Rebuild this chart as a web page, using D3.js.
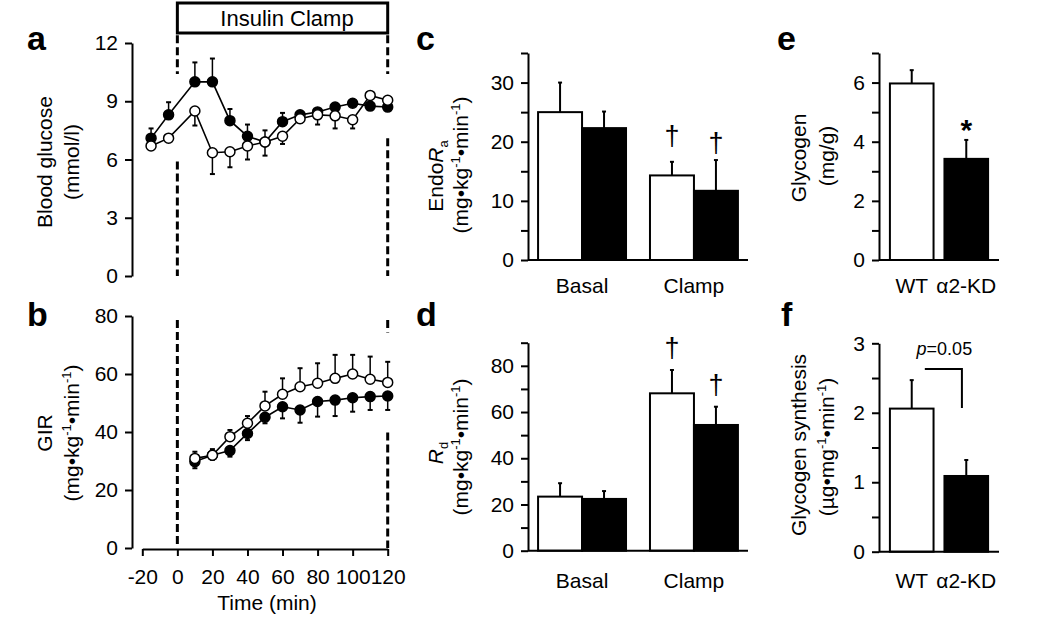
<!DOCTYPE html>
<html>
<head>
<meta charset="utf-8">
<script src="https://cdn.jsdelivr.net/npm/d3@7"></script>
<style>
  body { margin: 0; background: #fff; }
  text { font-family: "Liberation Sans", Arial, Helvetica, sans-serif; fill: #000; }
</style>
</head>
<body>
<svg id="fig" width="1050" height="629"></svg>
<script>
// ---- data ----
// panel a: blood glucose (mmol/l)
const timeA = [-15, -5, 10, 20, 30, 40, 50, 60, 70, 80, 90, 100, 110, 120];
const glucWT = [6.7, 7.1, 8.5, 6.35, 6.4, 6.7, 6.9, 7.2, 8.1, 8.3, 8.25, 8.05, 9.3, 9.05];
const glucWTErr = [0.15, 0.1, 0.75, 1.1, 0.8, 0.7, 0.7, 0.4, 0.2, 0.5, 0.65, 0.45, 0.1, 0.1];
const glucKD = [7.1, 8.3, 10.0, 10.0, 8.0, 7.2, 6.9, 7.95, 8.3, 8.45, 8.7, 8.9, 8.75, 8.7];
const glucKDErr = [0.5, 0.65, 1.0, 1.2, 0.6, 0.6, 0.6, 0.45, 0.15, 0.15, 0.15, 0.15, 0.15, 0.15];

// panel b: GIR (mg/kg/min)
const timeB = [10, 20, 30, 40, 50, 60, 70, 80, 90, 100, 110, 120];
const girWT = [30.9, 32.0, 38.4, 43.0, 49.0, 53.0, 55.6, 56.8, 58.5, 60.0, 58.2, 57.1];
const girWTErr = [2.3, 2.1, 2.3, 2.5, 4.9, 5.5, 6.4, 6.9, 8.1, 6.6, 7.8, 7.1];
const girKD = [29.8, 32.0, 33.6, 39.5, 45.1, 48.7, 47.6, 50.5, 51.0, 51.8, 52.2, 52.4];
const girKDErr = [2.3, 1.5, 2.1, 2.3, 2.1, 4.0, 4.4, 5.2, 5.5, 4.8, 4.6, 4.8];
const timeTicks = [-20, 0, 20, 40, 60, 80, 100, 120];

// panels c, d: basal vs clamp
const phases = ["Basal", "Clamp"];
const groups = ["WT", "α2-KD"];
const endoRaWT = [25.0, 14.3];
const endoRaWTErr = [5.0, 2.3];
const endoRaKD = [22.3, 11.7];
const endoRaKDErr = [2.8, 5.2];
const rdWT = [23.4, 68.1];
const rdWTErr = [5.8, 10.1];
const rdKD = [22.4, 54.4];
const rdKDErr = [3.4, 7.9];

// panels e, f: WT vs KD
const glycogen = [5.97, 3.42];
const glycogenErr = [0.45, 0.64];
const glySynth = [2.06, 1.09];
const glySynthErr = [0.41, 0.23];

const svg = d3.select("#fig");
const FONT = "\"Liberation Sans\", Arial, Helvetica, sans-serif";

function yAxis(y, x0, ticks, labeled) {
  const ax = d3.axisLeft(y).tickValues(ticks).tickSize(7).tickSizeOuter(0).tickPadding(7)
    .tickFormat(d => labeled.includes(d) ? d : "");
  svg.append("g").attr("transform", `translate(${x0},0)`).call(ax)
    .attr("font-size", 21).attr("font-family", null)
    .call(s => s.selectAll("path, line").attr("stroke", "#000").attr("stroke-width", 2));
}

// rich text: parts of [string, style]  style: "" | "i" | "sup" | "sub"
function richText(x, y, parts, size) {
  const t = svg.append("text")
    .attr("transform", `translate(${x},${y}) rotate(-90)`)
    .attr("text-anchor", "middle")
    .attr("font-size", size);
  let shift = 0;
  parts.forEach(([s, st]) => {
    const sp = t.append("tspan").text(s);
    let want = 0;
    if (st === "sup") { want = -8; sp.attr("font-size", size * 0.62); }
    if (st === "sub") { want = 5; sp.attr("font-size", size * 0.62); }
    if (st === "i") sp.attr("font-style", "italic");
    if (want !== shift) sp.attr("dy", want - shift);
    shift = want;
  });
}

function panelLetter(x, y, s) {
  svg.append("text").attr("x", x).attr("y", y).attr("font-size", 34)
    .attr("font-weight", "bold").text(s);
}

const unitParts = [["(mg•kg", ""], ["-1", "sup"], ["•min", ""], ["-1", "sup"], [")", ""]];

// ---------- panels a & b (time course) ----------
const xT = d3.scaleLinear().domain([-20, 120]).range([142.3, 387.7]);
const yA = d3.scaleLinear().domain([0, 12]).range([276, 43]);
const yB = d3.scaleLinear().domain([0, 80]).range([548, 316]);

function dashed(y, t, segs) {
  segs.forEach(([a, b]) => {
    svg.append("line").attr("x1", xT(t)).attr("x2", xT(t))
      .attr("y1", y(a)).attr("y2", y(b))
      .attr("stroke", "#000").attr("stroke-width", 3).attr("stroke-dasharray", "8,4");
  });
}

function series(y, times, vals, errs, dir, filled) {
  const g = svg.append("g");
  times.forEach((t, i) => {
    const y0 = y(vals[i]), y1 = y(vals[i] + dir * errs[i]);
    g.append("line").attr("x1", xT(t)).attr("x2", xT(t)).attr("y1", y0).attr("y2", y1)
      .attr("stroke", "#000").attr("stroke-width", 1.5);
    g.append("line").attr("x1", xT(t) - 2.5).attr("x2", xT(t) + 2.5).attr("y1", y1).attr("y2", y1)
      .attr("stroke", "#000").attr("stroke-width", 2);
  });
  const line = d3.line().x((d, i) => xT(times[i])).y(d => y(d));
  g.append("path").datum(vals).attr("d", line).attr("fill", "none")
    .attr("stroke", "#000").attr("stroke-width", 1.6);
  g.selectAll("circle").data(vals).enter().append("circle")
    .attr("cx", (d, i) => xT(times[i])).attr("cy", d => y(d)).attr("r", 5)
    .attr("fill", filled ? "#000" : "#fff").attr("stroke", "#000").attr("stroke-width", 1.5);
}

// insulin clamp box
svg.append("rect").attr("x", xT(0)).attr("y", 3).attr("width", xT(120) - xT(0)).attr("height", 30)
  .attr("fill", "none").attr("stroke", "#000").attr("stroke-width", 3);
svg.append("text").attr("x", 287).attr("y", 26).attr("text-anchor", "middle")
  .attr("font-size", 22).text("Insulin Clamp");

dashed(yA, 0, [[12.4, 10.4], [5.9, 0]]);
dashed(yA, 120, [[12.4, 10.4], [7.1, 0]]);
dashed(yB, 0, [[78.6, 0]]);
dashed(yB, 120, [[78.6, 74.3], [39.8, 0]]);

yAxis(yA, 132, [0, 3, 6, 9, 12], [0, 3, 6, 9, 12]);
yAxis(yB, 132, [0, 20, 40, 60, 80], [0, 20, 40, 60, 80]);

svg.append("g").attr("transform", "translate(0,549)")
  .call(d3.axisBottom(xT).tickValues(timeTicks).tickSize(7).tickSizeOuter(0).tickPadding(13).tickFormat(d => d))
  .attr("font-size", 21).attr("font-family", null)
  .call(s => s.selectAll("path, line").attr("stroke", "#000").attr("stroke-width", 2));
svg.append("text").attr("x", 267).attr("y", 610).attr("text-anchor", "middle")
  .attr("font-size", 21).text("Time (min)");

series(yA, timeA, glucKD, glucKDErr, 1, true);
series(yA, timeA, glucWT, glucWTErr, -1, false);
series(yB, timeB, girKD, girKDErr, -1, true);
series(yB, timeB, girWT, girWTErr, 1, false);

richText(52, 162, [["Blood glucose", ""]], 21);
richText(79, 162, [["(mmol/l)", ""]], 21);
richText(52, 433, [["GIR", ""]], 21);
richText(79, 433, unitParts, 21);

panelLetter(27, 50, "a");
panelLetter(27, 326, "b");

// ---------- bar panels ----------
function barPanel(opts) {
  const { y, x0, x1, cats, wt, wtErr, kd, kdErr, marks, labelY } = opts;
  const outer = d3.scaleBand().domain(cats).range([x0, x1]).paddingInner(opts.pi).paddingOuter(opts.po);
  const bars = [];
  cats.forEach((c, i) => {
    if (opts.single) {
      bars.push({ x: outer(c), w: outer.bandwidth(), v: wt[i], e: wtErr[i], fill: i === 0 ? "#fff" : "#000" });
    } else {
      const inner = d3.scaleBand().domain(groups).range([outer(c), outer(c) + outer.bandwidth()]);
      bars.push({ x: inner("WT"), w: inner.bandwidth(), v: wt[i], e: wtErr[i], fill: "#fff" });
      bars.push({ x: inner("α2-KD"), w: inner.bandwidth(), v: kd[i], e: kdErr[i], fill: "#000" });
    }
  });
  const g = svg.append("g");
  bars.forEach(b => {
    const cx = b.x + b.w / 2;
    g.append("line").attr("x1", cx).attr("x2", cx).attr("y1", y(b.v)).attr("y2", y(b.v + b.e))
      .attr("stroke", "#000").attr("stroke-width", 2);
    g.append("line").attr("x1", cx - 2).attr("x2", cx + 2).attr("y1", y(b.v + b.e)).attr("y2", y(b.v + b.e))
      .attr("stroke", "#000").attr("stroke-width", 2);
  });
  g.selectAll("rect").data(bars).enter().append("rect")
    .attr("x", d => d.x).attr("width", d => d.w)
    .attr("y", d => y(d.v)).attr("height", d => y(0) - y(d.v))
    .attr("fill", d => d.fill).attr("stroke", "#000").attr("stroke-width", 2);
  // baseline
  svg.append("line").attr("x1", x0).attr("x2", x1).attr("y1", y(0)).attr("y2", y(0))
    .attr("stroke", "#000").attr("stroke-width", 2);
  cats.forEach(c => {
    svg.append("text").attr("x", outer(c) + outer.bandwidth() / 2).attr("y", labelY)
      .attr("text-anchor", "middle").attr("font-size", 21).text(c);
  });
  (marks || []).forEach(m => {
    const b = bars[m.bar];
    svg.append("text").attr("x", b.x + b.w / 2).attr("y", y(b.v + b.e) - m.off)
      .attr("text-anchor", "middle").attr("font-size", m.size).attr("font-weight", m.bold ? "bold" : null)
      .text(m.s);
  });
  return bars;
}

// c
const yC = d3.scaleLinear().domain([0, 35]).range([260, 53]);
yAxis(yC, 528, [0, 5, 10, 15, 20, 25, 30, 35], [0, 10, 20, 30]);
barPanel({ y: yC, x0: 528, x1: 748, cats: phases, wt: endoRaWT, wtErr: endoRaWTErr, kd: endoRaKD, kdErr: endoRaKDErr,
  pi: 0.214, po: 0.09, labelY: 293,
  marks: [{ bar: 2, s: "†", off: 17, size: 27 }, { bar: 3, s: "†", off: 8, size: 27 }] });
richText(443, 176, [["Endo", ""], ["R", "i"], ["a", "sub"]], 21);
richText(468, 165, unitParts, 21);
panelLetter(416, 50, "c");

// d
const yD = d3.scaleLinear().domain([0, 90]).range([550.7, 342.7]);
yAxis(yD, 528, [0, 10, 20, 30, 40, 50, 60, 70, 80, 90], [0, 20, 40, 60, 80]);
barPanel({ y: yD, x0: 528, x1: 748, cats: phases, wt: rdWT, wtErr: rdWTErr, kd: rdKD, kdErr: rdKDErr,
  pi: 0.214, po: 0.09, labelY: 588,
  marks: [{ bar: 2, s: "†", off: 13, size: 27 }, { bar: 3, s: "†", off: 13, size: 27 }] });
richText(443, 453, [["R", "i"], ["d", "sub"]], 21);
richText(468, 447, unitParts, 21);
panelLetter(416, 326, "d");

// e
const yE = d3.scaleLinear().domain([0, 7]).range([260, 53]);
yAxis(yE, 879, [0, 1, 2, 3, 4, 5, 6, 7], [0, 2, 4, 6]);
barPanel({ y: yE, x0: 879, x1: 999, cats: groups, wt: glycogen, wtErr: glycogenErr, single: true,
  pi: 0.2, po: 0.2, labelY: 293,
  marks: [{ bar: 1, s: "*", off: 0, size: 30, bold: true }] });
richText(806, 158, [["Glycogen", ""]], 21);
richText(834, 156, [["(mg/g)", ""]], 21);
panelLetter(777, 50, "e");

// f
const yF = d3.scaleLinear().domain([0, 3]).range([551.7, 343.3]);
yAxis(yF, 879, [0, 0.5, 1, 1.5, 2, 2.5, 3], [0, 1, 2, 3]);
const fBars = barPanel({ y: yF, x0: 879, x1: 999, cats: groups, wt: glySynth, wtErr: glySynthErr, single: true,
  pi: 0.2, po: 0.2, labelY: 588 });
richText(806, 445, [["Glycogen synthesis", ""]], 21);
richText(834, 447, [["(µg•mg", ""], ["-1", "sup"], ["•min", ""], ["-1", "sup"], [")", ""]], 21);
panelLetter(781, 326, "f");

// p-value bracket
const bx0 = fBars[0].x + fBars[0].w * 0.8, bx1 = fBars[1].x + fBars[1].w * 0.4;
svg.append("path")
  .attr("d", `M${bx0},${yF(2.63)}H${bx1}V${yF(2.07)}`)
  .attr("fill", "none").attr("stroke", "#000").attr("stroke-width", 2);
const pt = svg.append("text").attr("x", (bx0 + bx1) / 2 + 1).attr("y", 355).attr("text-anchor", "middle").attr("font-size", 18);
pt.append("tspan").attr("font-style", "italic").text("p");
pt.append("tspan").text("=0.05");
</script>
</body>
</html>
